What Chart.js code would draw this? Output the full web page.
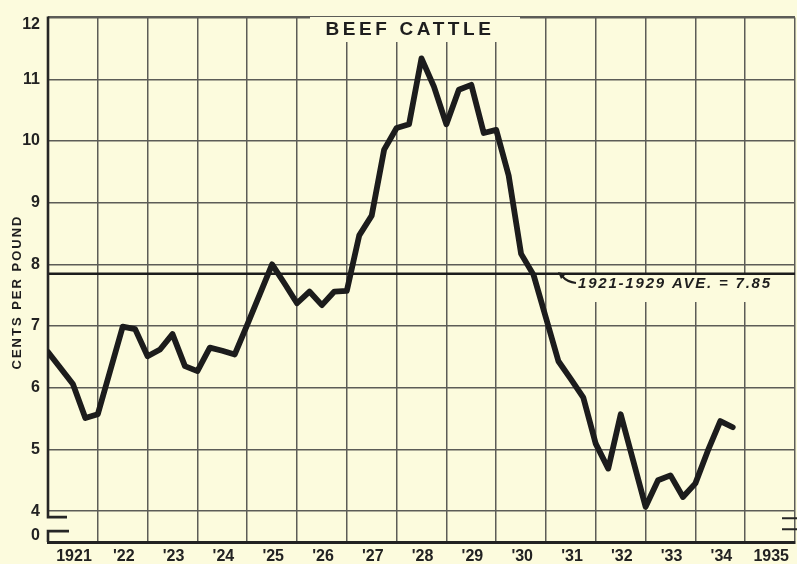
<!DOCTYPE html>
<html><head><meta charset="utf-8">
<script src="https://cdn.jsdelivr.net/npm/chart.js@4.4.1/dist/chart.umd.min.js"></script>
<style>
html,body{margin:0;padding:0;background:#fcfbdd;overflow:hidden;width:797px;height:564px;}
canvas{display:block;}
</style></head><body>
<canvas id="c" width="800" height="564" style="width:800px;height:564px"></canvas>
<script>
// ---- data ----
const startYear = 1921;            // first quarter plotted: 1921 Q1
const quarterlyPrices = [
  6.58, 6.32, 6.06, 5.51,   // 1921
  5.57, 6.28, 6.99, 6.95,   // 1922
  6.51, 6.62, 6.87, 6.35,   // 1923
  6.27, 6.65, 6.60, 6.54,   // 1924
  7.02, 7.51, 8.00, 7.69,   // 1925
  7.37, 7.56, 7.34, 7.56,   // 1926
  7.57, 8.47, 8.79, 9.86,   // 1927
  10.21, 10.27, 11.34, 10.88, // 1928
  10.27, 10.83, 10.91, 10.13, // 1929
  10.18, 9.44, 8.17, 7.83,  // 1930
  7.13, 6.43, 6.14, 5.84,   // 1931
  5.09, 4.69, 5.57, 4.82,   // 1932
  4.07, 4.50, 4.58, 4.23,   // 1933
  4.45, 4.98, 5.46, 5.36    // 1934
];
const yearTicks = [1921,1922,1923,1924,1925,1926,1927,1928,1929,1930,1931,1932,1933,1934,1935,1936];
const yearLabels = ['1921',"'22","'23","'24","'25","'26","'27","'28","'29","'30","'31","'32","'33","'34",'1935',''];
const priceTicks = [4,5,6,7,8,9,10,11,12];
const brokenAxisLabel = '0';
const averageValue = 7.85;
const averageLabel = '1921-1929 AVE. = 7.85';
const titleText = 'BEEF CATTLE';
const yTitleText = 'CENTS PER POUND';

// ---- styles ----
const BG = '#fcfbdd';
const INK = '#1c1c1c';
const GRID = '#5c5c57';
const FAMILY = "'Liberation Sans', Arial, sans-serif";

const points = quarterlyPrices.map((v, i) => ({ x: startYear + i / 4, y: v }));
const topTick = priceTicks[priceTicks.length - 1];

const decor = {
  id: 'decor',
  beforeDatasetsDraw(chart) {
    const { ctx, chartArea: a, scales: { x, y } } = chart;
    ctx.save();
    // cleared boxes behind title and annotation
    ctx.fillStyle = BG;
    ctx.fillRect(310, 17, 210, 25);
    ctx.fillRect(560, 274, 222, 28);

    // average line
    const ya = y.getPixelForValue(averageValue);
    ctx.strokeStyle = INK;
    ctx.lineWidth = 2.5;
    ctx.beginPath();
    ctx.moveTo(a.left, ya);
    ctx.lineTo(a.right, ya);
    ctx.stroke();

    // left border with axis break
    const y4 = y.getPixelForValue(4);
    ctx.strokeStyle = '#262626';
    ctx.lineWidth = 2.6;
    ctx.lineJoin = 'miter';
    ctx.beginPath();
    ctx.moveTo(a.left, a.top - 1);
    ctx.lineTo(a.left, y4 + 6);
    ctx.lineTo(a.left + 19, y4 + 6);
    ctx.moveTo(a.left + 21, y4 + 20);
    ctx.lineTo(a.left, y4 + 20);
    ctx.lineTo(a.left, a.bottom);
    ctx.stroke();

    // right side break marks
    ctx.lineWidth = 2;
    ctx.beginPath();
    ctx.moveTo(782, y4 + 7); ctx.lineTo(800, y4 + 7);
    ctx.moveTo(782, y4 + 18); ctx.lineTo(800, y4 + 18);
    ctx.stroke();

    // "0" label of the broken axis and the top "12" label (set slightly lower)
    ctx.fillStyle = '#222';
    ctx.font = 'bold 16px ' + FAMILY;
    ctx.textAlign = 'right';
    ctx.textBaseline = 'middle';
    ctx.fillText(brokenAxisLabel, a.left - 8, y4 + 24);
    ctx.fillText(String(topTick), a.left - 8, y.getPixelForValue(topTick) + 7);

    // title
    ctx.font = 'bold 19px ' + FAMILY;
    ctx.textAlign = 'center';
    ctx.letterSpacing = '3.6px';
    ctx.fillStyle = '#1e1e1e';
    ctx.fillText(titleText, 410, 30);

    // y axis title
    ctx.save();
    ctx.translate(17, 292);
    ctx.rotate(-Math.PI / 2);
    ctx.font = 'bold 13px ' + FAMILY;
    ctx.letterSpacing = '2px';
    ctx.textAlign = 'center';
    ctx.fillText(yTitleText, 0, 0);
    ctx.restore();

    // annotation text
    ctx.font = 'italic bold 15px ' + FAMILY;
    ctx.letterSpacing = '1.8px';
    ctx.textAlign = 'left';
    ctx.fillText(averageLabel, 578, 284);
    ctx.letterSpacing = '0px';

    // arrow
    ctx.strokeStyle = '#1e1e1e';
    ctx.lineWidth = 2;
    ctx.beginPath();
    ctx.moveTo(576, 283);
    ctx.quadraticCurveTo(567, 282, 562, 276);
    ctx.stroke();
    ctx.beginPath();
    ctx.moveTo(558, 272);
    ctx.lineTo(566, 274);
    ctx.lineTo(561, 279);
    ctx.closePath();
    ctx.fill();
    ctx.restore();
  }
};

new Chart(document.getElementById('c'), {
  type: 'line',
  data: {
    datasets: [{
      data: points,
      borderColor: INK,
      borderWidth: 5.8,
      pointRadius: 0,
      tension: 0,
      fill: false,
      borderJoinStyle: 'round',
      borderCapStyle: 'round'
    }]
  },
  options: {
    responsive: false,
    animation: false,
    devicePixelRatio: 1,
    layout: { padding: { top: 14, left: 0, right: 0, bottom: 0 } },
    plugins: { legend: { display: false }, tooltip: { enabled: false }, title: { display: false } },
    scales: {
      x: {
        type: 'linear', min: 1921, max: 1936,
        afterBuildTicks: s => { s.ticks = yearTicks.map(v => ({ value: v })); },
        afterFit: s => { s.height = 22; },
        grid: {
          drawTicks: false,
          color: c => (c.tick && c.tick.value === 1921) ? 'rgba(0,0,0,0)' : GRID,
          lineWidth: 1.5
        },
        border: { display: true, color: '#222', width: 3 },
        ticks: {
          autoSkip: false, maxRotation: 0, minRotation: 0, padding: 5, labelOffset: 26,
          color: '#222', font: { family: FAMILY, size: 16, weight: 'bold' },
          callback: (v, i) => yearLabels[i]
        }
      },
      y: {
        min: 3.5, max: 12,
        afterBuildTicks: s => { s.ticks = priceTicks.map(v => ({ value: v })); },
        afterFit: s => { s.width = 48; },
        grid: {
          drawTicks: false,
          color: GRID,
          lineWidth: c => (c.tick && c.tick.value === topTick) ? 2.6 : 1.5
        },
        border: { display: false },
        ticks: {
          padding: 8, color: '#222', font: { family: FAMILY, size: 16, weight: 'bold' },
          callback: v => (v === topTick ? '' : String(v))
        }
      }
    }
  },
  plugins: [decor]
});
</script>
</body></html>
